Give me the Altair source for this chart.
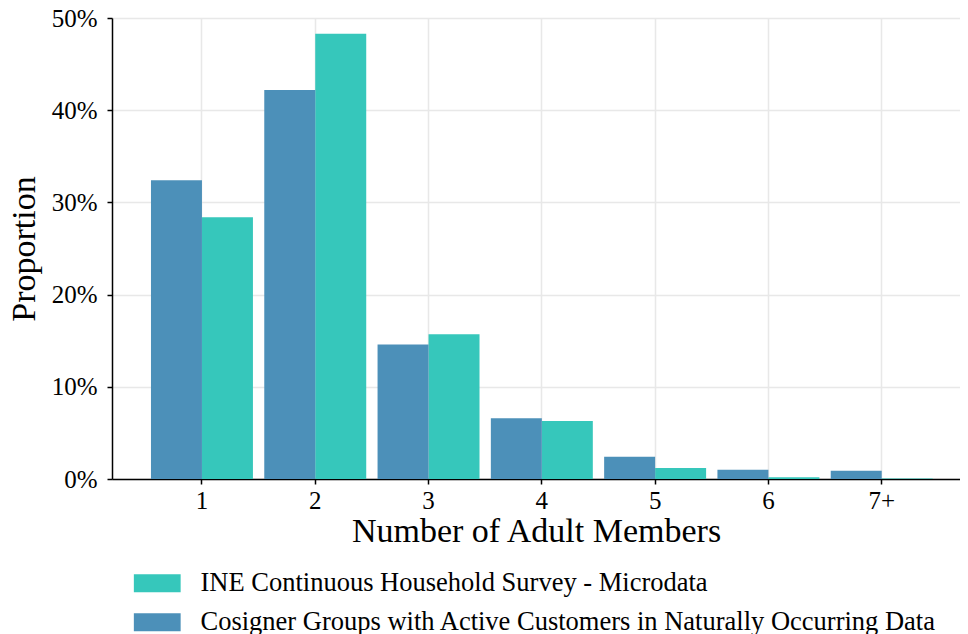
import altair as alt
import pandas as pd

categories = ["1", "2", "3", "4", "5", "6", "7+"]
ine_pct = [28.4, 48.3, 15.7, 6.3, 1.2, 0.2, 0.05]
cosigner_pct = [32.4, 42.2, 14.6, 6.6, 2.4, 1.0, 0.9]

ine_name = "INE Continuous Household Survey - Microdata"
cos_name = "Cosigner Groups with Active Customers in Naturally Occurring Data"

rows = []
for c, a, b in zip(categories, ine_pct, cosigner_pct):
    rows.append({"members": c, "series": ine_name, "value": a / 100})
    rows.append({"members": c, "series": cos_name, "value": b / 100})
df = pd.DataFrame(rows)

FONT = "Liberation Serif"

chart = (
    alt.Chart(df)
    .mark_bar()
    .encode(
        x=alt.X(
            "members:N",
            sort=categories,
            scale=alt.Scale(paddingInner=0.1, paddingOuter=0.2925, align=0.588),
            axis=alt.Axis(
                title="Number of Adult Members",
                labelAngle=0,
                grid=True,
                gridColor="#e8e8e8",
                gridWidth=1.5,
                domainColor="#000000",
                domainWidth=1.5,
                tickColor="#000000",
                tickSize=5,
                tickWidth=1.5,
                labelFontSize=25,
                labelPadding=4,
                titleFontSize=34,
                titleFontWeight="normal",
                titlePadding=1,
                labelColor="#000000",
                titleColor="#000000",
            ),
        ),
        xOffset=alt.XOffset("series:N", sort=[cos_name, ine_name]),
        y=alt.Y(
            "value:Q",
            scale=alt.Scale(domain=[0, 0.5], nice=False),
            axis=alt.Axis(
                title="Proportion",
                format=".0%",
                values=[0, 0.1, 0.2, 0.3, 0.4, 0.5],
                grid=True,
                gridColor="#e8e8e8",
                gridWidth=1.5,
                domainColor="#000000",
                domainWidth=1.5,
                tickColor="#000000",
                tickSize=5,
                tickWidth=1.5,
                labelFontSize=25,
                labelPadding=10,
                titleFontSize=34,
                titleFontWeight="normal",
                titlePadding=10,
                labelColor="#000000",
                titleColor="#000000",
            ),
        ),
        color=alt.Color(
            "series:N",
            scale=alt.Scale(domain=[ine_name, cos_name], range=["#36C7BB", "#4C90B9"]),
            legend=alt.Legend(
                title=None,
                orient="none",
                legendX=32,
                legendY=552,
                direction="vertical",
                symbolType="M-2.6,-1H2.6V1H-2.6Z",
                symbolSize=324,
                symbolStrokeWidth=0,
                symbolOpacity=1,
                labelFontSize=26.5,
                labelOffset=30,
                labelColor="#000000",
                rowPadding=12,
                labelLimit=900,
                padding=0,
            ),
        ),
    )
    .properties(
        width=848,
        height=461,
        autosize=alt.AutoSizeParams(type="none"),
        padding={"left": 104, "top": 10, "right": 0, "bottom": 160},
    )
    .configure(font=FONT)
    .configure_view(stroke=None)
)

chart.save("out.html", embed_options={"renderer": "svg", "actions": False})
